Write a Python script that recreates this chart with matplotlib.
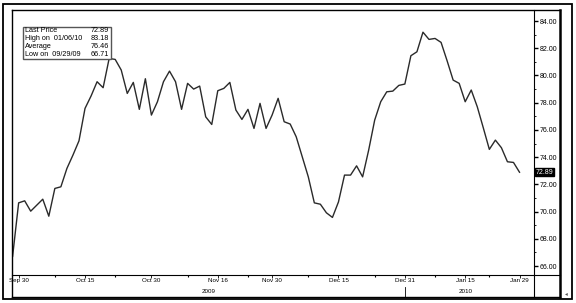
import matplotlib
matplotlib.use("Agg")
import matplotlib.pyplot as plt
import pandas as pd
from matplotlib.patches import Rectangle
from matplotlib.lines import Line2D

plt.rcParams['font.family'] = ['Liberation Sans', 'DejaVu Sans']

# daily closes, 09/29/09 .. 01/29/10 (one value per trading day)
prices = [66.71, 70.64, 70.79, 70.03, 70.47, 70.91, 69.66, 71.70, 71.82, 73.17,
          74.15, 75.20, 77.58, 78.49, 79.54, 79.10, 81.25, 81.18, 80.40, 78.68,
          79.49, 77.51, 79.76, 77.09, 78.07, 79.54, 80.32, 79.54, 77.51, 79.42,
          79.00, 79.22, 76.96, 76.40, 78.88, 79.05, 79.49, 77.46, 76.77, 77.51,
          76.11, 77.95, 76.11, 77.09, 78.32, 76.60, 76.43, 75.49, 74.02, 72.55,
          70.64, 70.54, 69.91, 69.57, 70.71, 72.68, 72.68, 73.36, 72.55, 74.51,
          76.72, 78.07, 78.80, 78.85, 79.27, 79.37, 81.45, 81.74, 83.18, 82.65,
          82.72, 82.43, 81.08, 79.66, 79.42, 78.07, 78.93, 77.70, 76.15, 74.57,
          75.25, 74.69, 73.66, 73.61, 72.89]

holidays = ['2009-11-26', '2009-12-25', '2010-01-01', '2010-01-18']
dates = [d for d in pd.bdate_range('2009-09-29', '2010-01-29') if d.strftime('%Y-%m-%d') not in holidays]

label_dates = ['2009-09-30', '2009-10-15', '2009-10-30', '2009-11-16', '2009-11-30',
               '2009-12-15', '2009-12-31', '2010-01-15', '2010-01-29']
tick_labels = ['Sep 30', 'Oct 15', 'Oct 30', 'Nov 16', 'Nov 30',
               'Dec 15', 'Dec 31', 'Jan 15', 'Jan 29']
minor_dates = ['2009-10-08', '2009-10-22', '2009-11-09', '2009-11-23',
               '2009-12-08', '2009-12-23', '2010-01-08', '2010-01-22']

legend_rows = [('Last Price', '72.89'), ('High on  01/06/10', '83.18'),
               ('Average', '76.46'), ('Low on  09/29/09', '66.71')]
last_price = 72.89

date_str = [d.strftime('%Y-%m-%d') for d in dates]
idx = list(range(len(prices)))

W, H = 576, 303
fig = plt.figure(figsize=(W / 100, H / 100), dpi=100)
ax = fig.add_axes([12 / W, 1 - 275 / H, (534 - 12) / W, (275 - 10) / H])

ax.plot(idx, prices, color='#2a2a2a', lw=1.0)
ax.set_xlim(-0.1, 86.4)
ax.set_ylim(65.34, 84.81)

# y axis on the right
ax.yaxis.tick_right()
ax.set_yticks(range(66, 85, 2))
ax.set_yticklabels([f'{v:.2f}' for v in range(66, 85, 2)], fontsize=5)
ax.set_yticks(range(66, 85), minor=True)
ax.tick_params(axis='y', which='major', length=3, width=1, pad=1, colors='black')
ax.tick_params(axis='y', which='minor', length=1.5, width=0.6)

# x axis by trading day
ax.set_xticks([date_str.index(d) for d in label_dates])
ax.set_xticklabels(tick_labels, fontsize=4.5)
ax.set_xticks([date_str.index(d) for d in minor_dates], minor=True)
ax.tick_params(axis='x', which='major', length=2.5, width=0.6, pad=0, direction='out')
ax.tick_params(axis='x', which='minor', length=1.5, width=0.8)

for s in ['top', 'left']:
    ax.spines[s].set_visible(False)
ax.spines['right'].set_linewidth(0.8)
ax.spines['bottom'].set_linewidth(0.8)

# year labels under the dates
split = date_str.index('2009-12-31')
ax.text(split / 2, -0.064, '2009', transform=ax.get_xaxis_transform(),
        ha='center', va='center', fontsize=4.5)
ax.text((split + 1 + len(prices) - 1) / 2, -0.064, '2010', transform=ax.get_xaxis_transform(),
        ha='center', va='center', fontsize=4.5)
ax.add_line(Line2D([split, split], [-0.045, -0.083], transform=ax.get_xaxis_transform(),
                   color='black', lw=0.6, clip_on=False))

# last price marker
ax.text(1.003, last_price, f'{last_price:.2f}', transform=ax.get_yaxis_transform(),
        ha='left', va='center', fontsize=5, color='white',
        bbox=dict(boxstyle='square,pad=0.1', fc='black', ec='black'))

# stats box
bx0, by0, bw, bh = 23, 27, 88, 32
fig.add_artist(Rectangle((bx0 / W, 1 - (by0 + bh) / H), bw / W, bh / H,
                         transform=fig.transFigure, fc='white', ec='#555555', lw=1.0))
for i, (lab, val) in enumerate(legend_rows):
    y = 1 - (by0 + 4 + i * 8) / H
    fig.text((bx0 + 2) / W, y, lab, fontsize=5.2, va='center', ha='left')
    fig.text((bx0 + bw - 2) / W, y, val, fontsize=5.2, va='center', ha='right')

# frames
def px_line(x0, y0, x1, y1, lw):
    fig.add_artist(Line2D([x0 / W, x1 / W], [1 - y0 / H, 1 - y1 / H],
                          transform=fig.transFigure, color='black', lw=lw))

fig.add_artist(Rectangle((3 / W, 1 - 299 / H), 569 / W, 295 / H,
                         transform=fig.transFigure, fill=False, ec='black', lw=1.3))
px_line(12, 10, 560, 10, 1.0)
px_line(12, 10, 12, 297, 1.0)
px_line(12, 297, 560, 297, 1.0)
px_line(560, 10, 560, 297, 1.8)
px_line(534, 275, 534, 297, 0.8)
px_line(534, 275, 560, 275, 0.8)
fig.text(566 / W, 1 - 294 / H, '\u25c2', fontsize=4, ha='center', va='center', color='#555555')

fig.savefig('out.png', dpi=100)
